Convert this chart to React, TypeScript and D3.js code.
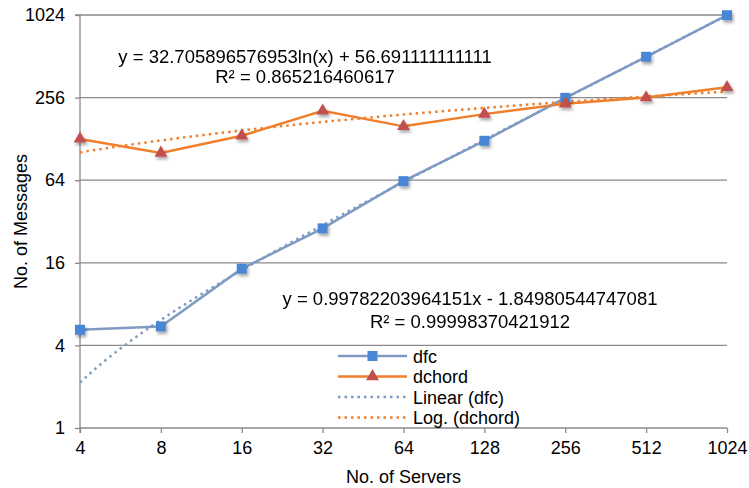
import React, { useRef, useEffect } from 'react';
import * as d3 from 'd3';

const servers = [4, 8, 16, 32, 64, 128, 256, 512, 1024];
const dfc = [5.2, 5.5, 14.5, 28.5, 63, 124, 255, 508, 1020];
const dchord = [128, 101, 135, 205, 158, 194, 231, 256, 304];
const yTicks = [1, 4, 16, 64, 256, 1024];

// trendline coefficients as printed on the chart
const linSlope = 0.99782203964151;
const linIntercept = -1.84980544747081;
const logCoef = 32.705896576953;
const logIntercept = 56.691111111111;
const logEq = ['y = 32.705896576953ln(x) + 56.691111111111', 'R² = 0.865216460617'];
const linEq = ['y = 0.99782203964151x - 1.84980544747081', 'R² = 0.99998370421912'];

const legendItems = [
  { label: 'dfc', kind: 'square' },
  { label: 'dchord', kind: 'triangle' },
  { label: 'Linear (dfc)', kind: 'dotBlue' },
  { label: 'Log. (dchord)', kind: 'dotOrange' },
];

const W = 749;
const H = 488;
const FONT = '"Liberation Sans", Arial, sans-serif';
const GRID = '#8a8a8a';
const BLUE_LINE = '#7f9bc2';
const BLUE_MARK = '#4a87d6';
const ORANGE = '#f07f2c';
const RED_MARK = '#c0504d';

export default function App() {
  const svgRef = useRef<SVGSVGElement>(null);

  useEffect(() => {
    document.body.style.margin = '0';
    if (!svgRef.current) return;
    const svg = d3.select(svgRef.current);
    svg.selectAll('*').remove();

    const margin = { top: 15, right: 22, bottom: 60, left: 80 };
    const x = d3.scaleLog().base(2).domain([4, 1024]).range([margin.left, W - margin.right]);
    const y = d3.scaleLog().base(2).domain([1, 1024]).range([H - margin.bottom, margin.top]);
    const x0 = x.range()[0], x1 = x.range()[1];
    const yb = y.range()[0];

    const defs = svg.append('defs');
    const f = defs.append('filter').attr('id', 'shadow').attr('x', '-50%').attr('y', '-50%').attr('width', '200%').attr('height', '200%');
    f.append('feDropShadow').attr('dx', 1.5).attr('dy', 2.5).attr('stdDeviation', 1.4)
      .attr('flood-color', '#000').attr('flood-opacity', 0.35);

    // gridlines
    svg.append('g').selectAll('line')
      .data(yTicks.filter(d => d > 1))
      .join('line')
      .attr('x1', x0).attr('x2', x1)
      .attr('y1', d => y(d)).attr('y2', d => y(d))
      .attr('stroke', GRID).attr('stroke-width', 1.3);

    // axes
    const yAxis = svg.append('g').attr('transform', `translate(${x0},0)`)
      .call(d3.axisLeft(y).tickValues(yTicks).tickFormat(d => String(d)).tickSize(5).tickPadding(10));
    yAxis.select('.domain').attr('stroke', GRID).attr('stroke-width', 1.3).attr('d', `M-5,${y(1024)}H0V${yb + 5}`);
    yAxis.selectAll('line').attr('stroke', GRID).attr('stroke-width', 1.3);
    yAxis.selectAll('text').attr('font-family', FONT).attr('font-size', 18).attr('fill', '#000');

    const xAxis = svg.append('g').attr('transform', `translate(0,${yb})`)
      .call(d3.axisBottom(x).tickValues(servers).tickFormat(d => String(d)).tickSize(5).tickPadding(8));
    xAxis.select('.domain').attr('stroke', GRID).attr('stroke-width', 1.3).attr('d', `M${x0},0H${x1}`);
    xAxis.selectAll('line').attr('stroke', GRID).attr('stroke-width', 1.3);
    xAxis.selectAll('text').attr('font-family', FONT).attr('font-size', 18).attr('fill', '#000');

    // axis titles
    svg.append('text')
      .attr('x', (x0 + x1) / 2).attr('y', H - 5)
      .attr('text-anchor', 'middle').attr('font-family', FONT).attr('font-size', 18)
      .text('No. of Servers');
    svg.append('text')
      .attr('transform', 'rotate(-90)')
      .attr('x', -(margin.top + yb) / 2).attr('y', 27)
      .attr('text-anchor', 'middle').attr('font-family', FONT).attr('font-size', 18)
      .text('No. of Messages');

    const pts = (vals: number[]) => servers.map((s, i) => [s, vals[i]] as [number, number]);
    const line = d3.line<[number, number]>().x(d => x(d[0])).y(d => y(d[1]));

    // series lines
    svg.append('path').datum(pts(dfc)).attr('d', line)
      .attr('fill', 'none').attr('stroke', BLUE_LINE).attr('stroke-width', 2.5);
    svg.append('path').datum(pts(dchord)).attr('d', line)
      .attr('fill', 'none').attr('stroke', ORANGE).attr('stroke-width', 2.5);

    // trendlines
    const tx = d3.range(2, 10.001, 0.05).map(t => Math.pow(2, t));
    const linTrend = tx.map(v => [v, linSlope * v + linIntercept] as [number, number]);
    const logTrend = tx.map(v => [v, logCoef * Math.log(v) + logIntercept] as [number, number]);
    svg.append('path').datum(linTrend).attr('d', line)
      .attr('fill', 'none').attr('stroke', BLUE_LINE).attr('stroke-width', 2.5)
      .attr('stroke-dasharray', '2.5,4');
    svg.append('path').datum(logTrend).attr('d', line)
      .attr('fill', 'none').attr('stroke', ORANGE).attr('stroke-width', 2.5)
      .attr('stroke-dasharray', '2.5,4');

    // markers
    const sq = 10;
    svg.append('g').attr('filter', 'url(#shadow)').selectAll('rect')
      .data(pts(dfc)).join('rect')
      .attr('x', d => x(d[0]) - sq / 2).attr('y', d => y(d[1]) - sq / 2)
      .attr('width', sq).attr('height', sq).attr('fill', BLUE_MARK);
    const tri = d3.symbol().type(d3.symbolTriangle).size(72);
    svg.append('g').attr('filter', 'url(#shadow)').selectAll('path')
      .data(pts(dchord)).join('path')
      .attr('transform', d => `translate(${x(d[0])},${y(d[1])})`)
      .attr('d', tri()).attr('fill', RED_MARK);

    // equations
    const eq = (lines: string[], cx: number, by: number, gap: number) => {
      lines.forEach((t, i) => {
        svg.append('text').attr('x', cx).attr('y', by + i * gap)
          .attr('text-anchor', 'middle').attr('font-family', FONT).attr('font-size', 18.5)
          .text(t);
      });
    };
    eq(logEq, 305, 63, 20);
    eq(linEq, 470, 305, 23);

    // legend
    const lg = svg.append('g').attr('transform', 'translate(338,356)');
    legendItems.forEach((it, i) => {
      const g = lg.append('g').attr('transform', `translate(0,${i * 20.5})`);
      const dotted = it.kind.startsWith('dot');
      const col = it.kind === 'square' || it.kind === 'dotBlue' ? BLUE_LINE : ORANGE;
      g.append('line').attr('x1', 0).attr('x2', 69).attr('y1', 0).attr('y2', 0)
        .attr('stroke', col).attr('stroke-width', 2.5)
        .attr('stroke-dasharray', dotted ? '2.5,4' : null);
      if (it.kind === 'square') {
        g.append('rect').attr('x', 34.5 - sq / 2).attr('y', -sq / 2).attr('width', sq).attr('height', sq).attr('fill', BLUE_MARK);
      } else if (it.kind === 'triangle') {
        g.append('path').attr('transform', 'translate(34.5,0)').attr('d', tri()).attr('fill', RED_MARK);
      }
      g.append('text').attr('x', 75).attr('y', 6.5)
        .attr('font-family', FONT).attr('font-size', 18).text(it.label);
    });
  }, []);

  return (
    <div style={{ width: W, height: H, background: '#fff' }}>
      <svg ref={svgRef} width={W} height={H} />
    </div>
  );
}
